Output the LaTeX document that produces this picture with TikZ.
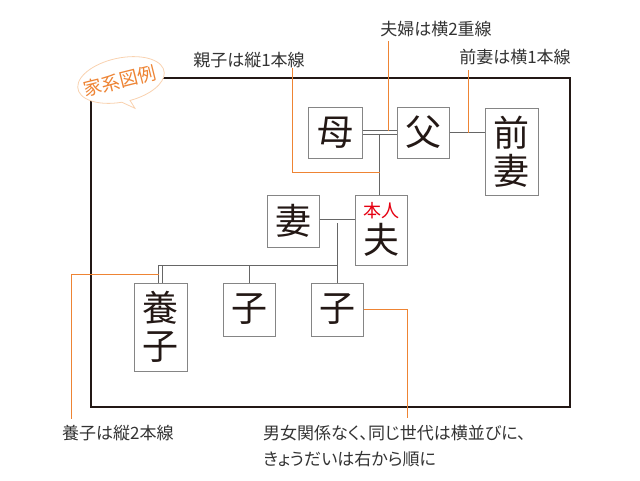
\documentclass[tikz,border=0pt]{standalone}
\usepackage{fontspec}
\setmainfont{Noto Sans CJK JP}
\newfontfamily\paltfont[RawFeature=+palt]{Noto Sans CJK JP}
\usetikzlibrary{calc}
\definecolor{framecol}{HTML}{231815}
\definecolor{boxcol}{HTML}{858585}
\definecolor{linecol}{HTML}{666666}
\definecolor{orng}{HTML}{EE8434}
\definecolor{bubblecol}{HTML}{F9D2B0}
\definecolor{honred}{HTML}{E60012}
\definecolor{txtcol}{HTML}{231815}
\definecolor{lblcol}{HTML}{333333}
\tikzset{
  famibox/.style={draw=boxcol, line width=1pt, fill=white, inner sep=0pt, text=txtcol, font=\fontsize{36}{38}\selectfont, align=center},
  conn/.style={draw=linecol, line width=0.9pt},
  dbl/.style={draw=linecol, line width=0.9pt, double=white, double distance=3pt},
  guide/.style={draw=orng, line width=0.9pt},
  lbl/.style={inner sep=0pt, text=lblcol, font=\fontsize{17}{26}\selectfont},
  lblp/.style={inner sep=0pt, text=lblcol, font=\paltfont\fontsize{17}{26}\selectfont},
  frameline/.style={draw=framecol, line width=1.8pt},
}
\begin{document}
\begin{tikzpicture}[x=1pt,y=-1pt]
\useasboundingbox (0,0) rectangle (640,480);
\draw[frameline] (91,78) rectangle (570,407);
% speech bubble
\begin{scope}[shift={(121,80)}, rotate=12]
  \filldraw[fill=white, draw=bubblecol, line width=0.8pt] (95:44 and 22) arc[start angle=95, end angle=444, x radius=44, y radius=22] -- (7.8,30.6) -- cycle;
\end{scope}
\node[text=orng, font=\fontsize{18.5}{18.5}\selectfont, rotate=14, inner sep=0pt] (title) at (120,81) {家系図例};
% boxes
\node[famibox, minimum width=54pt, minimum height=51pt] (mother) at (335,132.5) {母};
\node[famibox, minimum width=52pt, minimum height=51pt] (father) at (423,132.5) {父};
\node[famibox, minimum width=53pt, minimum height=87pt] (exwife) at (511.5,151.5) {前\\妻};
\node[famibox, minimum width=52pt, minimum height=52pt] (wife) at (293,221) {妻};
\node[famibox, minimum width=52pt, minimum height=70pt] (husband) at (381,230) {};
\node[text=honred, font=\fontsize{18}{18}\selectfont, inner sep=0pt] (honnin) at (381,210.5) {本人};
\node[text=txtcol, font=\fontsize{36}{36}\selectfont, inner sep=0pt] (otto) at (381,240) {夫};
\node[famibox, minimum width=53pt, minimum height=88pt] (adopted) at (160.5,327) {養\\子};
\node[famibox, minimum width=52pt, minimum height=53pt] (child1) at (249,309.5) {子};
\node[famibox, minimum width=52pt, minimum height=53pt] (child2) at (337,309.5) {子};
% family connectors
\coordinate (pm) at ($(mother.east)!0.5!(father.west)$);
\draw[conn] (pm) -- (pm |- husband.north);
\draw[dbl] (mother.east) -- (father.west);
\draw[conn] (father.east) -- (exwife.west |- father.east);
\coordinate (cm) at ($(wife.east)!0.5!(wife.east -| husband.west)$);
\draw[conn] (cm) -- (child2.north);
\draw[dbl] (wife.east) -- (wife.east -| husband.west);
\coordinate (sibY) at (0,265);
\draw[dbl] (adopted.north |- sibY) -- (adopted.north);
\coordinate (adL) at ($(adopted.north)+(-2.4,0)$);
\draw[conn] (adL |- sibY) -- (cm |- sibY);
\draw[conn] (child1.north |- sibY) -- (child1.north);
% labels
\node[lbl] (lOyako) at (249,60) {親子は縦1本線};
\node[lbl] (lFufu) at (436,29) {夫婦は横2重線};
\node[lbl] (lZensai) at (515,57) {前妻は横1本線};
\node[lbl, anchor=west] (lYoshi) at (62,433) {養子は縦2本線};
\node[lblp, anchor=north west, align=left] (lSib) at (263,425) {男女関係なく、同じ世代は横並びに、\\きょうだいは右から順に};
% orange guides
\coordinate (g1) at (292,172);
\draw[guide] (g1 |- lOyako.south) -- (g1) -- (pm |- g1);
\coordinate (g2) at (388,0);
\draw[guide] ($(g2 |- lFufu.south)+(0,4)$) -- ($(g2 |- mother.east)+(0,-2)$);
\coordinate (g3) at (468,0);
\draw[guide] ($(g3 |- lZensai.south)+(0,5)$) -- (g3 |- father.east);
\coordinate (g4) at (71,274);
\coordinate (adLL) at ($(adopted.north)+(-1.95,0)$);
\draw[guide] (adLL |- g4) -- (g4) -- ($(g4 |- lYoshi.north)+(0,-6)$);
\coordinate (g5) at (407,0);
\draw[guide] (child2.east) -| ($(g5 |- lSib.north)+(0,-7)$);
\end{tikzpicture}
\end{document}
